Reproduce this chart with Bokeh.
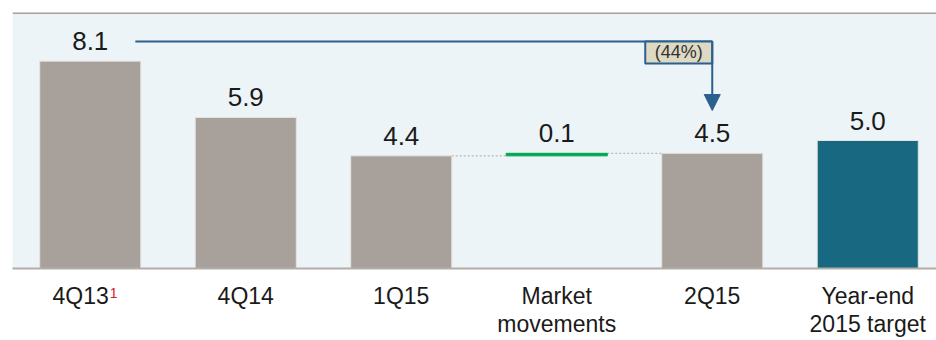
from bokeh.plotting import figure
from bokeh.models import (Range1d, FixedTicker, ColumnDataSource, Arrow, NormalHead,
                          Span, LinearAxis)
from bokeh.embed import file_html
from bokeh.resources import INLINE
from bokeh.core.properties import value

# Waterfall data (values in %)
categories = ["4Q13", "4Q14", "1Q15", "Market\nmovements", "2Q15", "Year-end\n2015 target"]
values = [8.1, 5.9, 4.4, 0.1, 4.5, 5.0]
kinds = ["total", "total", "total", "delta", "total", "target"]
footnote = "1"

GRAY = "#A8A09A"
TEAL = "#176880"
GREEN = "#00A651"
BLUE = "#2B5F8E"
BG = "#EDF4F7"
FONT = "Liberation Sans"

xs = list(range(len(categories)))
bottoms, tops, colors, edges = [], [], [], []
prev = 0.0
for v, k in zip(values, kinds):
    if k == "delta":
        b, t = prev, prev + v
        prev = t
    else:
        b, t = 0.0, v
        prev = v
    bottoms.append(b)
    tops.append(t)
    colors.append({"total": GRAY, "delta": GREEN, "target": TEAL}[k])
    edges.append(GREEN if k == "delta" else "#E4E2DF")

bar_w = 0.65
src = ColumnDataSource(dict(
    x=xs,
    left=[x - bar_w / 2 for x in xs],
    right=[x + bar_w / 2 for x in xs],
    bottom=bottoms,
    top=tops,
    color=colors,
    edge=edges,
    label=[f"{v:.1f}" for v in values],
))

p = figure(frame_width=924, frame_height=256,
           x_range=Range1d(-0.5, -0.5 + 924 / 155.5), y_range=Range1d(0, 10),
           output_backend="svg", toolbar_location=None,
           min_border_left=12, min_border_top=12, min_border_right=0, min_border_bottom=0)
p.border_fill_color = "white"
p.background_fill_color = BG
p.outline_line_color = None
p.grid.visible = False
p.yaxis.visible = False

# first label leaves room for its footnote marker
pad = "\u00a0" * 3
xa = p.xaxis[0]
xa.ticker = FixedTicker(ticks=xs)
xa.major_label_overrides = {i: (c if i else c + pad) for i, c in enumerate(categories)}
xa.major_tick_line_color = None
xa.minor_tick_line_color = None
xa.axis_line_color = "#B3ADA8"
xa.axis_line_width = 2
xa.major_label_standoff = 8
xa.major_label_text_font = FONT
xa.major_label_text_font_size = "23px"
xa.major_label_text_color = "#1a1a1a"
xa.major_label_text_line_height = 1.1

# footnote marker after the first category label
fn_x = xs[0] + 0.15
fa = LinearAxis(ticker=FixedTicker(ticks=[fn_x]), major_label_overrides={fn_x: footnote},
                axis_line_color=None, major_tick_line_color=None, minor_tick_line_color=None,
                major_label_standoff=-59, major_label_text_font=FONT,
                major_label_text_font_size="14px", major_label_text_color="#D0202E")
p.add_layout(fa, "below")

# top rule of the panel
p.add_layout(Span(location=10, dimension="width", line_color="#A9A39E", line_width=3))

# connector lines between steps
for i in range(len(values) - 1):
    if kinds[i + 1] == "delta" or kinds[i] == "delta":
        level = tops[i] if kinds[i + 1] == "delta" else tops[i + 1]
        p.line([xs[i] + bar_w / 2, xs[i + 1] - bar_w / 2], [level, level],
               line_color="#AAAAAA", line_width=1, line_dash="2 2")

p.quad(left="left", right="right", bottom="bottom", top="top", source=src,
       fill_color="color", line_color="edge", line_width=1)

p.text(x="x", y="top", text="label", source=src, text_align="center",
       text_baseline="bottom", y_offset=-11, text_font=value(FONT),
       text_font_size="26px", text_color="#1a1a1a")

# change from 4Q13 to 2Q15
change = (values[4] - values[0]) / values[0]
y_line = 8.87
p.segment(x0=[0.29], y0=[y_line], x1=[xs[4]], y1=[y_line], line_color=BLUE, line_width=2)
p.add_layout(Arrow(end=NormalHead(size=16, fill_color=BLUE, line_color=BLUE),
                   x_start=xs[4], y_start=y_line, x_end=xs[4], y_end=6.17,
                   line_color=BLUE, line_width=2))
box_w = 67 / 155.5
box_h = 22 / 25.6
p.quad(left=[xs[4] - box_w], right=[xs[4]], top=[y_line], bottom=[y_line - box_h],
       fill_color="#DDD9C3", line_color=BLUE, line_width=2)
p.text(x=[xs[4] - box_w / 2], y=[y_line - box_h / 2], text=[f"({abs(change):.0%})"],
       text_align="center", text_baseline="middle", text_font=value(FONT),
       text_font_size="18px", text_color="#333333")

open("out.html", "w").write(file_html(p, INLINE))
